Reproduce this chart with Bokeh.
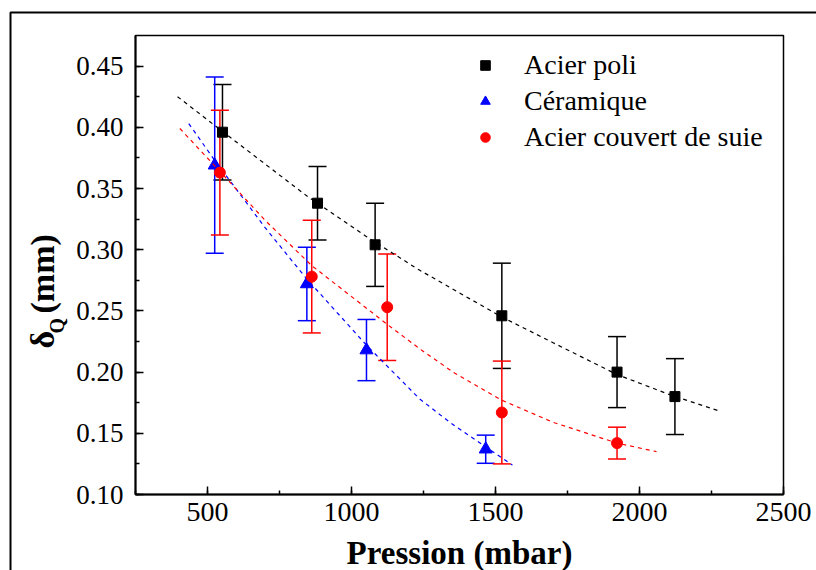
import numpy as np
from bokeh.plotting import figure
from bokeh.models import (ColumnDataSource, Whisker, TeeHead, Legend, LegendItem, Label,
                          BoxAnnotation, SingleIntervalTicker, PrintfTickFormatter, Range1d,
                          LinearAxis)
from bokeh.embed import file_html
from bokeh.resources import INLINE

# ---- data ----
poli_x = [552, 882, 1082, 1522, 1922, 2123]
poli_y = [0.396, 0.338, 0.304, 0.246, 0.200, 0.180]
poli_err = [0.039, 0.030, 0.034, 0.043, 0.029, 0.031]

ceram_x = [525, 845, 1052, 1466]
ceram_y = [0.369, 0.272, 0.218, 0.137]
ceram_err = [0.072, 0.030, 0.025, 0.0115]

suie_x = [543, 862, 1124, 1522, 1922]
suie_y = [0.363, 0.278, 0.253, 0.167, 0.142]
suie_err = [0.051, 0.046, 0.0435, 0.042, 0.013]

poli_fit_x = [396, 550, 700, 850, 1050, 1231, 1522, 1700, 1922, 2100, 2279]
poli_fit_y = [0.425, 0.397, 0.370, 0.343, 0.311, 0.284, 0.245, 0.224, 0.198, 0.182, 0.168]

ceram_fit_x = [435, 525, 700, 845, 1052, 1237, 1347, 1466, 1559]
ceram_fit_y = [0.403, 0.373, 0.318, 0.276, 0.222, 0.178, 0.158, 0.139, 0.124]

suie_fit_x = [404, 543, 700, 862, 1124, 1243, 1359, 1522, 1700, 1922, 2059]
suie_fit_y = [0.399, 0.364, 0.324, 0.287, 0.239, 0.218, 0.199, 0.177, 0.159, 0.142, 0.135]

labels = ["Acier poli", "Céramique", "Acier couvert de suie"]
x_title = "Pression (mbar)"
X_MIN, X_MAX = 250, 2500
Y_MIN, Y_MAX = 0.10, 0.475

FONT = "Liberation Serif"
W, H = 816, 570
# pixel box of the plotting area inside the canvas
BL, BR, BT, BB = 135, 783, 35, 494
kx = (X_MAX - X_MIN) / (BR - BL)
ky = (Y_MAX - Y_MIN) / (BB - BT)

p = figure(width=W, height=H,
           x_range=Range1d(X_MIN - BL * kx, X_MAX + (W - BR) * kx),
           y_range=Range1d(Y_MIN - (H - BB) * ky, Y_MAX + BT * ky),
           x_axis_location=None, y_axis_location=None,
           output_backend="svg", toolbar_location=None,
           min_border_left=0, min_border_right=0, min_border_top=0, min_border_bottom=0)
p.grid.visible = False
p.outline_line_color = None

xaxis = LinearAxis(fixed_location=Y_MIN, bounds=(X_MIN, X_MAX),
                   ticker=SingleIntervalTicker(interval=500, num_minor_ticks=2))
yaxis = LinearAxis(fixed_location=X_MIN, bounds=(Y_MIN, Y_MAX),
                   ticker=SingleIntervalTicker(interval=0.05, num_minor_ticks=2),
                   formatter=PrintfTickFormatter(format="%.2f"))
for ax in (xaxis, yaxis):
    ax.axis_line_width = 2
    ax.axis_line_color = "black"
    ax.major_tick_in = 8
    ax.major_tick_out = 0
    ax.minor_tick_in = 4
    ax.minor_tick_out = 0
    ax.major_tick_line_width = 1.5
    ax.minor_tick_line_width = 1.5
    ax.major_tick_line_color = "black"
    ax.minor_tick_line_color = "black"
    ax.major_label_text_font = FONT
    ax.major_label_text_color = "black"
xaxis.major_label_text_font_size = "28px"
yaxis.major_label_text_font_size = "27px"
xaxis.major_label_standoff = 8
yaxis.major_label_standoff = 12
p.add_layout(xaxis, "below")
p.add_layout(yaxis, "left")

# plot box
p.add_layout(BoxAnnotation(left=X_MIN, right=X_MAX, bottom=Y_MIN, top=Y_MAX,
                           fill_alpha=0, line_color="black", line_alpha=1.0,
                           line_width=1.5, level="underlay"))

def add_series(xs, ys, errs, fx, fy, color, marker, size):
    up = [y + e for y, e in zip(ys, errs)]
    lo = [y - e for y, e in zip(ys, errs)]
    src = ColumnDataSource(dict(x=xs, y=ys, upper=up, lower=lo))
    w = Whisker(source=src, base="x", upper="upper", lower="lower", dimension="height",
                line_color=color, line_width=1.5,
                upper_head=TeeHead(size=18, line_color=color, line_width=1.5),
                lower_head=TeeHead(size=18, line_color=color, line_width=1.5))
    p.add_layout(w)
    p.line(fx, fy, line_color=color, line_width=1.2, line_dash="4 4")
    r = p.scatter("x", "y", source=src, marker=marker, size=size,
                  fill_color=color, line_color=color)
    return r

r1 = add_series(poli_x, poli_y, poli_err, poli_fit_x, poli_fit_y, "#000000", "square", 10)
r2 = add_series(ceram_x, ceram_y, ceram_err, ceram_fit_x, ceram_fit_y, "#0000ff", "triangle", 13)
r3 = add_series(suie_x, suie_y, suie_err, suie_fit_x, suie_fit_y, "#ff0000", "circle", 11)

legend = Legend(items=[LegendItem(label=labels[0], renderers=[r1]),
                       LegendItem(label=labels[1], renderers=[r2]),
                       LegendItem(label=labels[2], renderers=[r3])],
                location=(473, H - 155), padding=0, margin=0, spacing=0,
                glyph_width=24, glyph_height=36, label_height=36, label_standoff=27,
                label_text_font=FONT, label_text_font_size="28px", label_text_color="black",
                background_fill_alpha=0, border_line_alpha=0)
p.add_layout(legend)

# axis titles as labels (canvas units, y measured downward)
def lab(text, x, y, size, angle=0, align="left"):
    p.add_layout(Label(x=x, y=y, x_units="canvas", y_units="canvas", text=text, angle=angle,
                       text_font=FONT, text_font_style="bold", text_font_size=size,
                       text_color="black", text_align=align, text_baseline="alphabetic"))

lab(x_title, (BL + BR) / 2, 552, "33px", align="center")
lab("δ", 42, 348, "34px", angle=np.pi / 2)
lab("Q", 56, 333, "20px", angle=np.pi / 2)
lab("(mm)", 42, 313, "34px", angle=np.pi / 2)

# outer frame (extends past the right and bottom edges)
p.add_layout(BoxAnnotation(left=10, right=W + 50, top=12, bottom=H + 50,
                           left_units="canvas", right_units="canvas",
                           top_units="canvas", bottom_units="canvas",
                           fill_alpha=0, line_color="black", line_alpha=1.0,
                           line_width=2, level="overlay"))

open("out.html", "w").write(file_html(p, INLINE))
